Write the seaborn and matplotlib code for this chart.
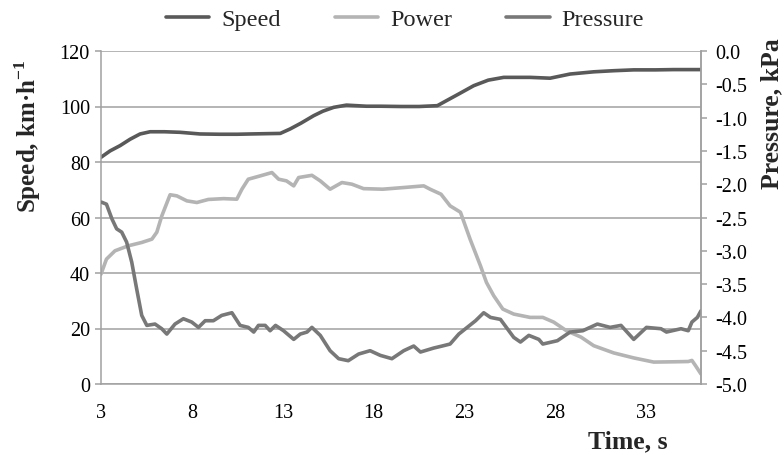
import matplotlib
matplotlib.use("Agg")
import matplotlib.pyplot as plt
import matplotlib.ticker as mticker
import seaborn as sns

sns.set_theme(style="white")
SERIF = "Liberation Serif"
plt.rcParams["font.family"] = [SERIF, "DejaVu Serif"]
plt.rcParams["mathtext.fontset"] = "custom"
plt.rcParams["mathtext.rm"] = SERIF
plt.rcParams["mathtext.bf"] = SERIF + ":bold"
plt.rcParams["axes.unicode_minus"] = False

# --- data ------------------------------------------------------------------
speed_t = [3.0, 3.5, 4.05, 4.6, 5.15, 5.7, 6.5, 7.35, 8.45, 9.5, 10.5, 11.2, 12.0,
           12.86, 13.4, 14.0, 14.7, 15.2, 15.8, 16.5, 17.6, 18.4, 19.5, 20.5, 21.5,
           22.0, 22.7, 23.5, 24.3, 25.15, 26.6, 27.7, 28.8, 30.1, 31.2, 32.3, 33.5,
           34.5, 35.3, 36.0]
speed = [81.7, 84.0, 85.9, 88.2, 90.1, 90.9, 90.9, 90.7, 90.1, 90.0, 90.0, 90.1, 90.2,
         90.3, 91.9, 94.0, 96.7, 98.3, 99.7, 100.5, 100.1, 100.1, 100.0, 100.0, 100.3,
         102.1, 104.6, 107.5, 109.5, 110.5, 110.5, 110.2, 111.7, 112.5, 112.9, 113.2, 113.2,
         113.3, 113.3, 113.3]

power_t = [3.0, 3.3, 3.77, 4.5, 5.24, 5.8, 6.07, 6.34, 6.8, 7.17, 7.72, 8.27, 8.9,
           9.74, 10.47, 10.75, 11.1, 11.76, 12.4, 12.77, 13.2, 13.6, 13.87, 14.6, 15.06,
           15.6, 16.25, 16.8, 17.44, 18.5, 19.65, 20.75, 21.1, 21.7, 22.2, 22.77, 23.3,
           23.87, 24.2, 24.6, 25.1, 25.7, 26.6, 27.3, 27.9, 28.6, 29.4, 30.1, 31.2,
           32.3, 33.4, 34.5, 35.3, 35.5, 35.7, 36.0]
power = [39.6, 45.0, 48.0, 49.8, 51.0, 52.2, 54.7, 60.5, 68.2, 67.8, 66.0, 65.4, 66.5,
         66.8, 66.6, 70.2, 73.8, 75.0, 76.2, 73.8, 73.2, 71.4, 74.4, 75.2, 73.2,
         70.2, 72.6, 72.0, 70.4, 70.2, 70.8, 71.4, 70.2, 68.4, 64.2, 61.9, 52.2,
         42.6, 36.6, 31.8, 27.0, 25.2, 24.0, 24.0, 22.3, 19.2, 16.9, 13.8, 11.2,
         9.4, 7.9, 8.0, 8.1, 8.5, 6.6, 3.6]

pressure_t = [3.03, 3.3, 3.6, 3.86, 4.14, 4.41, 4.69, 4.96, 5.24, 5.52, 5.97, 6.34,
              6.62, 7.07, 7.53, 7.99, 8.36, 8.73, 9.18, 9.64, 10.2, 10.65, 11.1, 11.4,
              11.66, 12.03, 12.3, 12.6, 13.04, 13.6, 13.96, 14.33, 14.6, 15.06, 15.6,
              16.07, 16.6, 17.17, 17.8, 18.36, 19.0, 19.65, 20.2, 20.57, 21.3, 21.76,
              22.2, 22.68, 23.14, 23.6, 24.05, 24.42, 24.97, 25.7, 26.07, 26.53, 27.08,
              27.3, 28.1, 28.8, 29.5, 30.3, 31.0, 31.6, 32.3, 33.0, 33.8, 34.1, 34.9,
              35.3, 35.5, 35.8, 36.0]
pressure = [-2.27, -2.30, -2.52, -2.67, -2.72, -2.87, -3.17, -3.57, -3.97, -4.12, -4.10,
            -4.17, -4.25, -4.10, -4.02, -4.07, -4.15, -4.05, -4.05, -3.97, -3.93, -4.12,
            -4.15, -4.22, -4.12, -4.12, -4.20, -4.12, -4.20, -4.33, -4.25, -4.22, -4.15,
            -4.27, -4.50, -4.62, -4.65, -4.55, -4.50, -4.57, -4.62, -4.50, -4.43, -4.52,
            -4.46, -4.43, -4.40, -4.25, -4.15, -4.05, -3.93, -4.00, -4.03, -4.30, -4.37,
            -4.27, -4.33, -4.40, -4.35, -4.22, -4.20, -4.10, -4.15, -4.12, -4.33, -4.15,
            -4.17, -4.22, -4.17, -4.20, -4.07, -4.00, -3.90]

x_ticks = [3, 8, 13, 18, 23, 28, 33]
speed_ticks = [0, 20, 40, 60, 80, 100, 120]
pressure_ticks = [0.0, -0.5, -1.0, -1.5, -2.0, -2.5, -3.0, -3.5, -4.0, -4.5, -5.0]

C_SPEED, C_POWER, C_PRESS = "#595959", "#b4b4b4", "#787878"
C_AXIS = "#a0a0a0"

fig = plt.figure(figsize=(7.84, 4.56), dpi=100)
ax = fig.add_axes([101 / 784, 1 - 385 / 456, 600 / 784, 333 / 456])
ax2 = ax.twinx()

sns.lineplot(x=speed_t, y=speed, ax=ax, color=C_SPEED, lw=2.6, label="Speed", legend=False)
sns.lineplot(x=power_t, y=power, ax=ax, color=C_POWER, lw=2.6, label="Power", legend=False)
sns.lineplot(x=pressure_t, y=pressure, ax=ax2, color=C_PRESS, lw=2.6, label="Pressure", legend=False)

ax.set_xlim(3, 36)
ax.set_ylim(0, 120)
ax2.set_ylim(-5, 0)
ax.set_xticks(x_ticks)
ax.set_yticks(speed_ticks)
ax2.set_yticks(pressure_ticks)
ax2.yaxis.set_major_formatter(mticker.FuncFormatter(lambda v, _: f"{v:.1f}"))

ax.grid(axis="y", color=C_AXIS, lw=1.1)
ax.grid(axis="x", visible=False)
ax2.grid(False)
ax.set_xlabel(""); ax.set_ylabel(""); ax2.set_ylabel("")

for a in (ax, ax2):
    a.spines["top"].set_visible(False)
    for side in ("left", "right", "bottom"):
        a.spines[side].set_color(C_AXIS)
        a.spines[side].set_linewidth(1.1)
    a.tick_params(colors=C_AXIS, labelcolor="black", labelsize=14.5, length=4,
                  width=1.1, direction="out")
ax.tick_params(axis="x", pad=10)
ax.tick_params(axis="y", left=True, pad=4)
ax2.tick_params(axis="y", right=True, pad=6)
ax2.spines["left"].set_visible(False)
ax2.spines["bottom"].set_visible(False)

fig.text(28 / 784, 1 - 136 / 456, "Speed, km·h$^{\\mathbf{-1}}$", rotation=90,
         ha="center", va="center", fontsize=18, fontweight="bold")
fig.text(772 / 784, 1 - 114 / 456, "Pressure, kPa", rotation=90,
         ha="center", va="center", fontsize=18.5, fontweight="bold")
fig.text(628 / 784, 1 - 442 / 456, "Time, s", ha="center", va="center",
         fontsize=18.5, fontweight="bold")

handles = ax.get_lines()[:2] + ax2.get_lines()[:1]
fig.legend(handles, ["Speed", "Power", "Pressure"], loc="center",
           bbox_to_anchor=(405 / 784, 1 - 20 / 456), ncol=3, frameon=False,
           fontsize=17.5, handlelength=1.8, handletextpad=0.5, columnspacing=2.2)

fig.savefig("out.png", dpi=100)
